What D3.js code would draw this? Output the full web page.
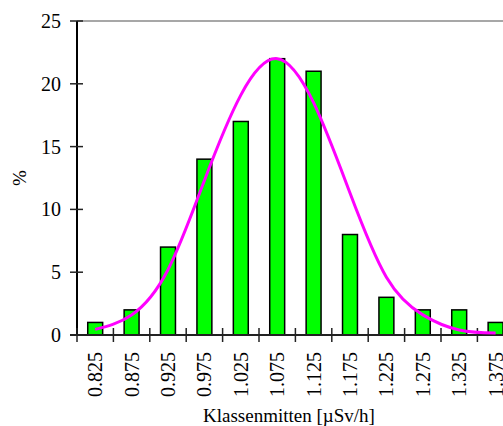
<!DOCTYPE html>
<html>
<head>
<meta charset="utf-8">
<script src="https://cdn.jsdelivr.net/npm/d3@7"></script>
<style>
  body { margin: 0; background: #fff; }
  svg { display: block; font-family: "Liberation Serif", "Times New Roman", serif; }
</style>
</head>
<body>
<svg></svg>
<script>
// class centres, histogram percentages and the fitted curve
const classes = ['0.825', '0.875', '0.925', '0.975', '1.025', '1.075', '1.125', '1.175', '1.225', '1.275', '1.325', '1.375'];
const percent = [1, 2, 7, 14, 17, 22, 21, 8, 3, 2, 2, 1];
const fitted = [0.45, 1.6, 5.2, 12.3, 19.1, 22.0, 18.5, 11.3, 4.6, 1.6, 0.4, 0.15];
const yTicks = [0, 5, 10, 15, 20, 25];

const width = 503;
const height = 426;
const svg = d3.select('svg').attr('width', width).attr('height', height);

const plotLeft = 77, plotTop = 21, plotBottom = 335;
const plotRight = plotLeft + 36.4 * classes.length; // plot runs past the window edge

const x = d3.scaleBand().domain(classes).range([plotLeft, plotRight]).paddingInner(0.59).paddingOuter(0.295);
const y = d3.scaleLinear().domain([0, 25]).range([plotBottom, plotTop]);

// top frame line
svg.append('line')
  .attr('x1', plotLeft).attr('x2', plotRight)
  .attr('y1', y(25)).attr('y2', y(25))
  .attr('stroke', '#8a8a8a').attr('stroke-width', 1.3);

// bars
svg.append('g').selectAll('rect')
  .data(percent)
  .join('rect')
  .attr('x', (d, i) => x(classes[i]))
  .attr('y', d => y(d))
  .attr('width', x.bandwidth())
  .attr('height', d => y(0) - y(d))
  .attr('fill', '#00ff00')
  .attr('stroke', '#000')
  .attr('stroke-width', 1.5);

// y axis
const yAxis = svg.append('g');
yAxis.append('line')
  .attr('x1', plotLeft).attr('x2', plotLeft).attr('y1', plotTop).attr('y2', plotBottom)
  .attr('stroke', '#000').attr('stroke-width', 2);
yAxis.selectAll('line.tick')
  .data(yTicks)
  .join('line')
  .attr('class', 'tick')
  .attr('x1', plotLeft - 7).attr('x2', plotLeft + 6)
  .attr('y1', d => y(d)).attr('y2', d => y(d))
  .attr('stroke', '#222').attr('stroke-width', 1.5);
yAxis.selectAll('text')
  .data(yTicks)
  .join('text')
  .attr('x', 61)
  .attr('y', d => y(d))
  .attr('dy', '0.35em')
  .attr('text-anchor', 'end')
  .attr('font-size', 20)
  .text(d => d);

// x axis
const xAxis = svg.append('g');
xAxis.append('line')
  .attr('x1', plotLeft - 7).attr('x2', plotRight).attr('y1', plotBottom).attr('y2', plotBottom)
  .attr('stroke', '#222').attr('stroke-width', 2);
xAxis.selectAll('line.tick')
  .data(d3.range(classes.length + 1))
  .join('line')
  .attr('class', 'tick')
  .attr('x1', i => plotLeft + i * x.step()).attr('x2', i => plotLeft + i * x.step())
  .attr('y1', plotBottom - 7).attr('y2', plotBottom + 7)
  .attr('stroke', '#222').attr('stroke-width', 1.5);
xAxis.selectAll('text')
  .data(classes)
  .join('text')
  .attr('transform', d => `translate(${x(d) + x.bandwidth() / 2},352) rotate(-90)`)
  .attr('dy', '0.35em')
  .attr('text-anchor', 'end')
  .attr('font-size', 20)
  .text(d => d);

// fitted normal curve
const line = d3.line()
  .x((d, i) => x(classes[i]) + x.bandwidth() / 2)
  .y(d => y(d))
  .curve(d3.curveNatural);
svg.append('path')
  .attr('d', line(fitted))
  .attr('fill', 'none')
  .attr('stroke', '#ff00ff')
  .attr('stroke-width', 3);

// axis titles
svg.append('text')
  .attr('x', 289).attr('y', 422)
  .attr('text-anchor', 'middle')
  .attr('font-size', 19)
  .text('Klassenmitten [µSv/h]');
svg.append('text')
  .attr('transform', `translate(19,${(plotTop + plotBottom) / 2}) rotate(-90)`)
  .attr('dy', '0.35em')
  .attr('text-anchor', 'middle')
  .attr('font-size', 19)
  .text('%');
</script>
</body>
</html>
